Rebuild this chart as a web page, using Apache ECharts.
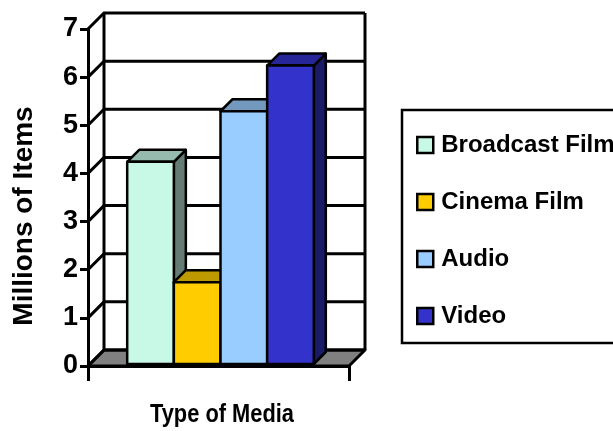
<!DOCTYPE html>
<html>
<head>
<meta charset="utf-8">
<script src="https://cdn.jsdelivr.net/npm/echarts@6/dist/echarts.min.js"></script>
<style>
html,body{margin:0;padding:0;background:#fff;}
#c{width:613px;height:431px;}
</style>
</head>
<body>
<div id="c"></div>
<script>
// ---- data ----
const categories = ['Broadcast Film', 'Cinema Film', 'Audio', 'Video'];
const values = [4.2, 1.7, 5.25, 6.2];
const yTickValues = [0, 1, 2, 3, 4, 5, 6, 7];
const xTitle = 'Type of Media';
const yTitle = 'Millions of Items';

// ---- styles ----
const colors = ['#C8F8E6', '#FFCC00', '#99CCFF', '#3333CC'];
const DEPTH = 16;      // wall depth in px
const BAR_D0 = 2;      // bar front depth
const BAR_D1 = 14;     // bar back depth
const GAP = 0.1425;    // group side gap (fraction of axis)
const BW = (1 - 2 * GAP) / categories.length;
const LW = 3;

function shade(hex, f) {
  const n = parseInt(hex.slice(1), 16);
  const r = Math.round(((n >> 16) & 255) * f);
  const g = Math.round(((n >> 8) & 255) * f);
  const b = Math.round((n & 255) * f);
  return 'rgb(' + r + ',' + g + ',' + b + ')';
}

function wallsRender(params, api) {
  const ymax = yTickValues[yTickValues.length - 1];
  const p00 = api.coord([0, 0]);
  const p10 = api.coord([1, 0]);
  const p0t = api.coord([0, ymax]);
  const children = [];
  const d = DEPTH;
  // floor
  children.push({
    type: 'polygon',
    shape: { points: [[p00[0], p00[1]], [p10[0], p10[1]], [p10[0] + d, p10[1] - d], [p00[0] + d, p00[1] - d]] },
    style: { fill: '#808080', stroke: '#000', lineWidth: LW, lineJoin: 'round' }
  });
  // gridlines on side and back walls
  yTickValues.forEach(function (v) {
    const a = api.coord([0, v]);
    const b = api.coord([1, v]);
    children.push({
      type: 'polyline',
      shape: { points: [[a[0], a[1]], [a[0] + d, a[1] - d], [b[0] + d, b[1] - d]] },
      style: { stroke: '#000', lineWidth: LW, fill: null, lineJoin: 'miter' }
    });
  });
  // back wall verticals
  children.push({
    type: 'line',
    shape: { x1: p00[0] + d, y1: p00[1] - d, x2: p0t[0] + d, y2: p0t[1] - d },
    style: { stroke: '#000', lineWidth: LW }
  });
  children.push({
    type: 'line',
    shape: { x1: p10[0] + d, y1: p10[1] - d, x2: p10[0] + d, y2: p0t[1] - d },
    style: { stroke: '#000', lineWidth: LW }
  });
  return { type: 'group', children: children };
}

function barRender(i) {
  return function (params, api) {
    const v = api.value(1);
    const x0 = GAP + i * BW;
    const a = api.coord([x0, 0]);
    const b = api.coord([x0 + BW, v]);
    const c = colors[i];
    const f = BAR_D0, k = BAR_D1;
    const L = a[0], R = b[0], B = a[1], T = b[1];
    const st = { stroke: '#000', lineWidth: 2.5, lineJoin: 'round' };
    return {
      type: 'group',
      children: [
        { type: 'polygon', shape: { points: [[R + f, T - f], [R + k, T - k], [R + k, B - k], [R + f, B - f]] },
          style: Object.assign({ fill: shade(c, 0.5) }, st) },
        { type: 'polygon', shape: { points: [[L + f, T - f], [R + f, T - f], [R + k, T - k], [L + k, T - k]] },
          style: Object.assign({ fill: shade(c, 0.75) }, st) },
        { type: 'rect', shape: { x: L + f, y: T - f, width: R - L, height: B - T },
          style: Object.assign({ fill: c }, st) }
      ]
    };
  };
}

const series = [{
  type: 'custom',
  name: '__walls',
  renderItem: wallsRender,
  data: [[0.5, 0]],
  z: 1,
  silent: true
}];
categories.forEach(function (name, i) {
  series.push({
    type: 'custom',
    name: name,
    renderItem: barRender(i),
    data: [[0.5, values[i]]],
    itemStyle: { color: colors[i] },
    z: 2 + i
  });
});

const chart = echarts.init(document.getElementById('c'), null, { renderer: 'canvas' });
chart.setOption({
  animation: false,
  backgroundColor: '#fff',
  color: colors,
  grid: { left: 88, right: 264, top: 29, bottom: 65, containLabel: false },
  xAxis: {
    type: 'value', min: 0, max: 1, interval: 1,
    axisLine: { show: true, lineStyle: { color: '#000', width: 3 } },
    axisTick: { show: true, length: 15, inside: false, lineStyle: { color: '#000', width: 3 } },
    axisLabel: { show: false },
    splitLine: { show: false },
    z: 10
  },
  yAxis: {
    type: 'value', min: yTickValues[0], max: yTickValues[yTickValues.length - 1], interval: 1,
    axisLine: { show: true, lineStyle: { color: '#000', width: 3 } },
    axisTick: { show: true, length: 8, lineStyle: { color: '#000', width: 3 } },
    axisLabel: { color: '#000', fontSize: 27, fontWeight: 'bold', fontFamily: 'Liberation Sans, Arial, sans-serif', margin: 10 },
    splitLine: { show: false },
    z: 10
  },
  legend: {
    orient: 'vertical',
    left: 416, top: 133,
    icon: 'rect',
    itemWidth: 16, itemHeight: 16,
    itemGap: 33,
    padding: 0,
    selectedMode: false,
    data: categories,
    itemStyle: { borderColor: '#000', borderWidth: 2.5 },
    textStyle: { color: '#000', fontSize: 24, fontWeight: 'bold', fontFamily: 'Liberation Sans, Arial, sans-serif', lineHeight: 24, padding: [0, 0, 0, 3] }
  },
  graphic: [
    { type: 'rect', shape: { x: 402, y: 110, width: 260, height: 233 },
      style: { fill: 'none', stroke: '#000', lineWidth: 2.5 }, z: -1 },
    { type: 'text', x: 24, y: 216, rotation: Math.PI / 2,
      style: { text: yTitle, fill: '#000', font: 'bold 28px "Liberation Sans", Arial, sans-serif', textAlign: 'center', textVerticalAlign: 'middle' } },
    { type: 'text', x: 222, y: 415, scaleX: 0.84,
      style: { text: xTitle, fill: '#000', font: 'bold 26px "Liberation Sans", Arial, sans-serif', textAlign: 'center', textVerticalAlign: 'middle' } }
  ],
  series: series
});
</script>
</body>
</html>
